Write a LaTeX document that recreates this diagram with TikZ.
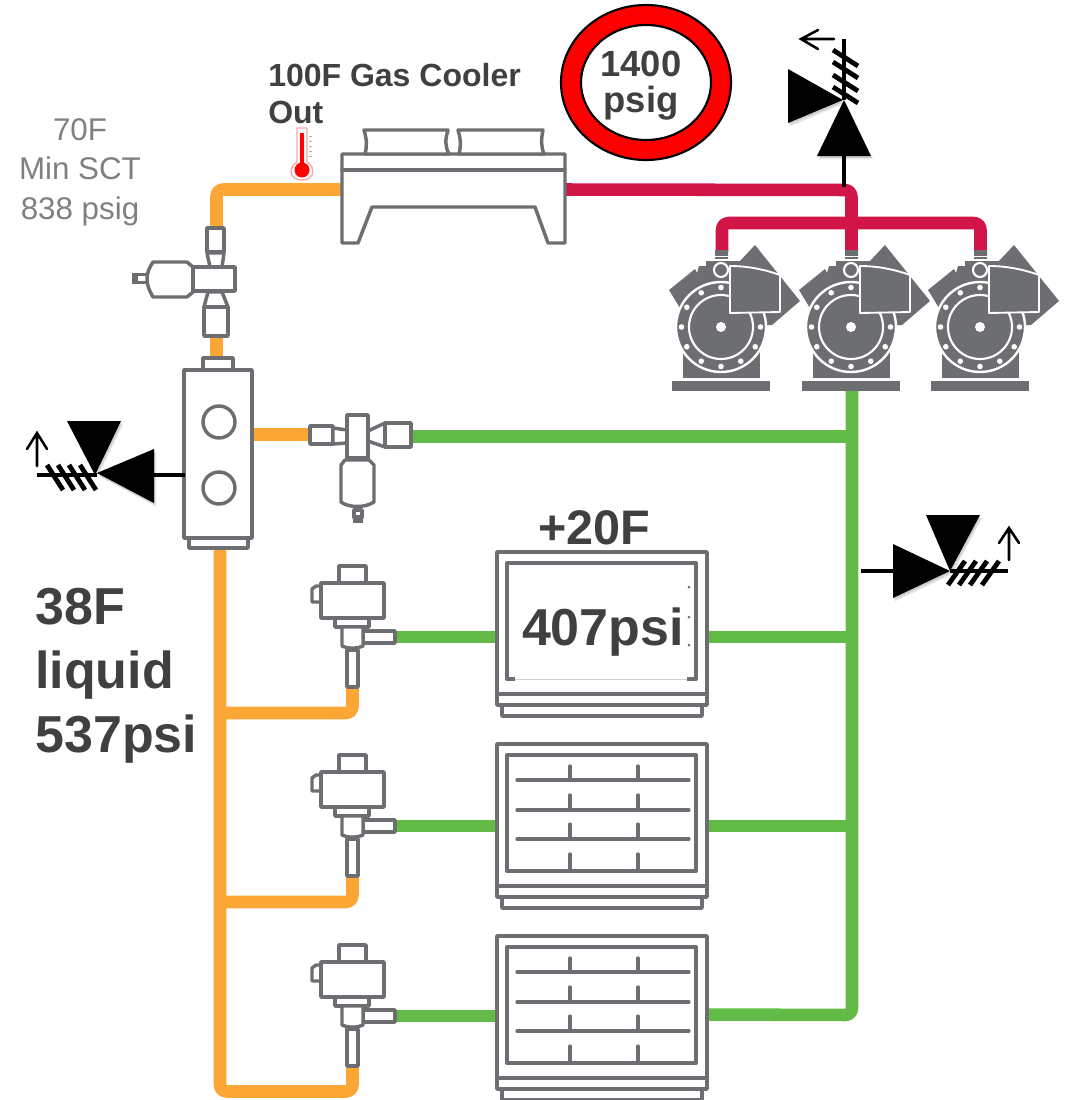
\documentclass[tikz,border=0pt]{standalone}
\usepackage{fontspec}
\setmainfont{Liberation Sans}
\definecolor{eqgray}{HTML}{6D6E71}
\definecolor{pipeorange}{HTML}{FBA635}
\definecolor{pipegreen}{HTML}{62BB46}
\definecolor{pipered}{HTML}{D11547}
\definecolor{darktext}{HTML}{404040}
\definecolor{softtext}{HTML}{808080}
\tikzset{
  x=0.75pt,y=-0.75pt,
  pipe/.style={line width=9.4pt,rounded corners=5pt,line join=round},
  orangepipe/.style={pipe,draw=pipeorange},
  greenpipe/.style={pipe,draw=pipegreen},
  redpipe/.style={pipe,draw=pipered},
  eq/.style={draw=eqgray,line width=2.6pt,fill=white,line join=round},
  eqline/.style={draw=eqgray,line width=2.6pt,line cap=round},
  bold/.style={font=\bfseries,text=darktext,inner sep=0pt},
  softshadow/.style={preaction={fill=black,opacity=.10,transform canvas={shift={(1.5pt,-2.5pt)}}},
                     preaction={fill=black,opacity=.10,transform canvas={shift={(.8pt,-1.4pt)}}}},
  blacktri/.style={fill=black,softshadow},
  stem/.style={draw=black,line width=3.6pt},
  hatch/.style={draw=black,line width=3.6pt},
  thinarrow/.style={draw=black,line width=1.9pt,line cap=round,line join=miter},
  compressorpic/.pic={
    \fill[eqgray] (-52,-37)--(-26,-58)--(-24,-54)--(-22,-61)--(-15,-61)--(-15,-66)--(-6,-66)--(-6,-77)--(7,-77)--(7,-66)--(19,-66)--(34,-82)--(79,-26)--(51,-2)--(0,0)--(-38,-14)--cycle;
    \fill[eqgray] (-38,20) rectangle (39,51);
    \fill[eqgray] (-49,54) rectangle (49,64);
    \filldraw[fill=eqgray,draw=white,line width=1.8pt] (0,0) circle (45);
    \draw[white,line width=1.6pt] (0,0) circle (32);
    \fill[white] (0,0) circle (5);
    \foreach \a in {0,30,...,330} \fill[white] (\a:39.5) circle (2.8);
    \filldraw[fill=eqgray,draw=white,line width=1.4pt,line join=round] (9,-61) .. controls (28,-61) and (45,-57) .. (59,-52) -- (59,-15) -- (9,-14) -- cycle;
    \filldraw[fill=eqgray,draw=white,line width=1.6pt] (0,-57) circle (7);
    \draw[white,line width=.8pt] (-16,-70.5)--(19,-70.5) (-16,-67)--(19,-67);
  },
  solvalvepic/.pic={
    \draw[eq] (-13,-71) rectangle (14,-54);
    \draw[eq] (-40,-48) -- (-36,-51) -- (-31,-51) -- (-31,-35) -- (-40,-35) -- cycle;
    \draw[eq] (-31,-54) rectangle (32,-19);
    \draw[eq] (-17,-19) rectangle (17,-10);
    \draw[eq] (11,-6) rectangle (43,6);
    \draw[eq] (-10,-10) -- (11,-10) -- (11,9) .. controls (5,12) and (-4,12) .. (-10,9) -- cycle;
    \draw[eq] (-5,13) rectangle (6,50);
  },
  casepic/.pic={
    \draw[eq] (5,153) rectangle (205,164);
    \draw[eq] (0,0) rectangle (210,153);
    \draw[eqline] (0,142) -- (210,142);
    \draw[eq,line width=3pt] (10,11) rectangle (199,127);
  },
  shelvespic/.pic={
    \foreach \y in {36,66,95} \draw[eqline,line width=2.4pt] (20,\y) -- (192,\y);
    \foreach \x in {73,141}{
      \draw[eqline,line width=2.4pt] (\x,22) -- (\x,36);
      \draw[eqline,line width=2.4pt] (\x,51) -- (\x,66);
      \draw[eqline,line width=2.4pt] (\x,80) -- (\x,95);
      \draw[eqline,line width=2.4pt] (\x,110) -- (\x,127);
    }
  },
}
\begin{document}
\begin{tikzpicture}
\useasboundingbox (0,0) rectangle (1066,1100);
% named pipe waypoints
\coordinate (coolerIn) at (342,189.5);
\coordinate (coolerCorner) at (216.5,189.5);
\coordinate (valveTop) at (216.5,232);
\coordinate (valveBot) at (216.5,336);
\coordinate (recvTop) at (216.5,360);
\coordinate (recvOut) at (252,434.5);
\coordinate (flashIn) at (312,434.5);
\coordinate (flashOut) at (409,436.5);
\coordinate (suctFlash) at (852,436.5);
\coordinate (suctTop) at (852,390);
\coordinate (recvBot) at (220,547);
\coordinate (liqBot) at (220,1091.5);
\coordinate (sol1) at (352.5,686);
\coordinate (sol2) at (352.5,875);
\coordinate (sol3) at (352.5,1065);
\coordinate (suctBot) at (852,1015);
\coordinate (redOut) at (565,189.5);
\coordinate (redMid) at (851.5,190);
\coordinate (c1top) at (722,252);
\coordinate (c2top) at (851.5,252);
\coordinate (c3top) at (980.5,252);
% orange pipes
\draw[orangepipe] (coolerIn) -- (coolerCorner) -- (valveTop);
\draw[orangepipe] (valveBot) -- (recvTop);
\draw[orangepipe] (recvOut) -- (flashIn);
\draw[orangepipe] (recvBot) -- (liqBot) -- (liqBot -| sol3) -- (sol3);
\draw[orangepipe] (220,713) -- (352.5,713) -- (sol1);
\draw[orangepipe] (220,902) -- (352.5,902) -- (sol2);
% green pipes
\draw[greenpipe] (flashOut) -- (suctFlash);
\draw[greenpipe] (suctTop) -- (suctBot) -- (706,1014.5);
\draw[greenpipe] (706,637) -- (852,637);
\draw[greenpipe] (706,826) -- (852,826);
\draw[greenpipe] (393,637) -- (498,637);
\draw[greenpipe] (393,826) -- (498,826);
\draw[greenpipe] (393,1016) -- (498,1016);
% red pipes
\draw[redpipe] (redOut) -- (redMid) -- (c2top);
\draw[redpipe] (c1top) -- (722,223) -- (980.5,223) -- (c3top);
% gas cooler
\draw[eq] (342,154) -- (342,243) -- (358,243) -- (372,207) -- (535,207) -- (548,243) -- (565,243) -- (565,154) -- cycle;
\draw[eqline] (342,170) -- (565,170);
\draw[eq] (364,130) .. controls (367,140) and (367,146) .. (365,154) -- (449,154) .. controls (445,146) and (445,140) .. (448,130) -- cycle;
\draw[eq] (458,130) .. controls (461,140) and (461,146) .. (459,154) -- (544,154) .. controls (541,146) and (541,140) .. (543,130) -- cycle;
% thermometer
\filldraw[fill=white,draw=red!35!white,line width=1pt] (297,128) -- (307,128) -- (307,162) .. controls (316,167) and (315,180) .. (302,180) .. controls (289,180) and (288,167) .. (297,162) -- cycle;
\draw[red,line width=2.6pt] (302,133) -- (302,168);
\fill[red] (302,170) circle (7.5);
\draw[gray!60,line width=.5pt] (309,136)--(312,136) (309,141)--(312,141) (309,146)--(312,146) (309,151)--(312,151) (309,156)--(312,156);
% expansion valve top
\draw[eq] (207,228) rectangle (224,252);
\draw[eq] (207,253) -- (210,267) -- (222,267) -- (224,253) -- cycle;
\draw[eq] (208,292) -- (204,307) -- (228,307) -- (222,292) -- cycle;
\draw[eq] (204,307) rectangle (228,336);
\fill[eqgray] (132,273) rectangle (137,284);
\draw[eq,line width=2pt] (137,274.5) rectangle (147,282.5);
\draw[eq] (153,262) -- (187,262) -- (193,267) -- (193,292) -- (187,297) -- (153,297) .. controls (149,290) and (147,285) .. (147,279) .. controls (147,273) and (149,268) .. (153,262) -- cycle;
\draw[eq] (193,267) rectangle (235,291);
% receiver
\draw[eq] (203,370) -- (203,358) -- (233,358) -- (233,370);
\draw[eq] (189,538) rectangle (248,548);
\draw[eq] (184,370) rectangle (252,538);
\draw[eq] (219,422) circle (16);
\draw[eq] (219,488) circle (16);
% flash gas valve
\draw[eq] (310,426) rectangle (333,444);
\draw[eq] (333,428) -- (347,430) -- (347,443) -- (333,444) -- cycle;
\draw[eq] (368,431) -- (385,423) -- (385,447) -- (368,441) -- cycle;
\draw[eq] (385,423) rectangle (411,447);
\draw[eq] (347,415) rectangle (368,458);
\draw[eq] (354,510) rectangle (362,518);
\fill[eqgray] (353,515) rectangle (363,523);
\draw[eq] (345,460) -- (369,460) -- (374,465) -- (374,502) .. controls (365,508) and (349,508) .. (341,502) -- (341,465) -- cycle;
% solenoid valves
\pic (sv1) at (352,637) {solvalvepic};
\pic (sv2) at (352,826) {solvalvepic};
\pic (sv3) at (352,1016) {solvalvepic};
% cases
\pic (case1) at (497,552) {casepic};
\fill[white] (515,668) rectangle (687,680.5);
\draw[gray!35,line width=.5pt] (515,679.5) -- (687,679.5);
\fill[eqgray] (689,587) circle (1.5) (689,617) circle (1.5) (689,645) circle (1.5);
\pic (case2) at (497,744) {casepic};
\pic (shelf2) at (497,744) {shelvespic};
\pic (case3) at (497,936) {casepic};
\pic (shelf3) at (497,936) {shelvespic};
% compressors
\pic (comp1) at (721,327) {compressorpic};
\pic (comp2) at (851,327) {compressorpic};
\pic (comp3) at (980,327) {compressorpic};
% relief valve top
\draw[stem] (844,187) -- (844,156);
\draw[stem] (844,100) -- (844,39);
\foreach \y in {50,62,75,87} \draw[hatch] (833,\y) -- (858,\y+16);
\fill[blacktri] (788,69) -- (843,100) -- (788,123) -- cycle;
\fill[blacktri] (844,100) -- (871,156) -- (817,156) -- cycle;
\draw[thinarrow] (834,39) -- (801,39) (818,30) -- (801,39) -- (818,49);
% relief valve left
\draw[stem] (185,475) -- (154,475);
\draw[stem] (97,475) -- (37,475);
\foreach \x in {47,58,69,80} \draw[hatch] (\x,465) -- (\x+16,490);
\fill[blacktri] (67,421) -- (121,421) -- (95,475) -- cycle;
\fill[blacktri] (97,473) -- (154,449) -- (154,503) -- cycle;
\draw[thinarrow] (37,466) -- (37,433) (27,449) -- (37,433) -- (47,449);
% relief valve right
\draw[stem] (861,571) -- (893,571);
\draw[stem] (950,571) -- (1008,571);
\foreach \x in {948,959,970,982} \draw[hatch] (\x,585) -- (\x+17,561);
\fill[blacktri] (926,515) -- (980,515) -- (950,571) -- cycle;
\fill[blacktri] (893,544) -- (950,571) -- (893,598) -- cycle;
\draw[thinarrow] (1009,560) -- (1009,528) (999,543) -- (1009,528) -- (1019,543);
% pressure ring
\filldraw[fill=red,draw=black,line width=1.6pt,even odd rule] (646,82.5) ellipse [x radius=85,y radius=77.5] (646,82.5) ellipse [x radius=65,y radius=57.5];
% text
\node[bold,font=\bfseries\fontsize{27.3}{27}\selectfont,align=center] (ringtext) at (641,86) {1400\\psig};
\node[bold,font=\bfseries\fontsize{24}{28}\selectfont,align=left,anchor=north west] (cooltext) at (268,63) {100F Gas Cooler\\Out};
\node[inner sep=0pt,text=softtext,font=\fontsize{23.5}{29.5}\selectfont,align=center] (mintext) at (80,172) {70F\\Min SCT\\838 psig};
\node[bold,font=\bfseries\fontsize{39}{48}\selectfont,align=left,anchor=west] (liqtext) at (35,676) {38F\\liquid\\537psi};
\node[bold,font=\bfseries\fontsize{36.4}{40}\selectfont] (casetemp) at (594,528) {+20F};
\node[bold,font=\bfseries\fontsize{39}{40}\selectfont] (casepsi) at (603,632) {407psi};
\end{tikzpicture}
\end{document}
